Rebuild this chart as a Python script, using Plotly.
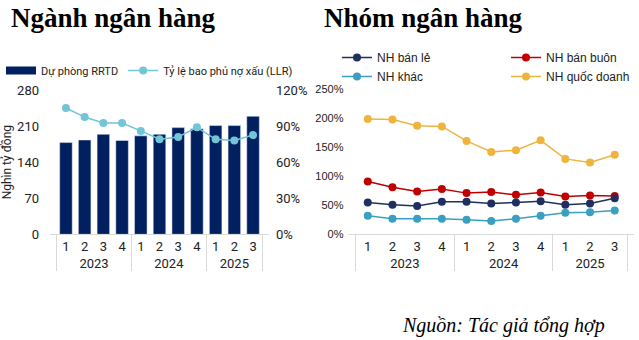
import plotly.graph_objects as go

# Quarter / year categories (two-level x axis)
quarters = ["1", "2", "3", "4", "1", "2", "3", "4", "1", "2", "3"]
years = ["2023"] * 4 + ["2024"] * 4 + ["2025"] * 3

# Banking sector: loan-loss provisions (thousand bn VND) and LLR (%)
provision = [178, 183, 194, 182, 191, 194, 207, 205, 211, 211, 229]
llr = [105, 97.5, 92.5, 92.5, 86, 79, 81, 89, 79, 78, 82.5]

# LLR by bank group (%)
retail = [55, 51, 49, 56, 56, 53, 55, 57, 51, 53, 62]
wholesale = [91, 81, 74, 78, 71, 73, 68, 72, 65, 67, 66]
other = [32, 27, 27, 27, 25, 23, 27, 32, 37, 38, 41]
state = [199, 198, 187, 186, 161, 142, 145, 162, 130, 124, 137]

W, H = 639, 340
xcat = [years, quarters]

NAVY_BAR = "#002060"
LLR_COL = "#72C4D7"
C_RETAIL = "#1F2F5F"
C_WHOLESALE = "#C00000"
C_OTHER = "#3A9FC1"
C_STATE = "#EEB43E"
GRID = "#D9D9D9"
TXT = "#222222"

fig = go.Figure()

# Left panel
fig.add_trace(go.Bar(x=xcat, y=provision, marker_color=NAVY_BAR, showlegend=False,
                     xaxis="x", yaxis="y", name="Dự phòng RRTD"))
# legend swatch for the bar series, drawn as a thick line
fig.add_trace(go.Scatter(x=[[years[0]], [quarters[0]]], y=[None], mode="lines",
                         line=dict(color=NAVY_BAR, width=8), name="Dự phòng RRTD",
                         xaxis="x", yaxis="y", legend="legend"))
fig.add_trace(go.Scatter(x=xcat, y=llr, mode="lines+markers", name="Tỷ lệ bao phủ nợ xấu (LLR)",
                         line=dict(color=LLR_COL, width=1.5), marker=dict(size=8, color=LLR_COL),
                         xaxis="x", yaxis="y2", legend="legend"))

# Right panel
series = [
    ("NH quốc doanh", state, C_STATE, "legend3"),
    ("NH bán buôn", wholesale, C_WHOLESALE, "legend3"),
    ("NH bán lẻ", retail, C_RETAIL, "legend2"),
    ("NH khác", other, C_OTHER, "legend2"),
]
for name, vals, col, lg in series:
    fig.add_trace(go.Scatter(x=xcat, y=vals, mode="lines+markers", name=name,
                             line=dict(color=col, width=1.5), marker=dict(size=8, color=col),
                             xaxis="x2", yaxis="y3", legend=lg))

y0 = (H - 234.3) / H

xcommon = dict(type="multicategory", showline=True, linecolor=GRID, linewidth=1,
               showdividers=True, dividercolor=GRID, dividerwidth=1,
               showgrid=False, zeroline=False,
               ticks="outside", ticklen=11, tickcolor="rgba(0,0,0,0)",
               tickfont=dict(family="Roboto", size=13, color=TXT), fixedrange=True)

fig.update_layout(
    width=W, height=H,
    margin=dict(l=0, r=0, t=0, b=0, autoexpand=False),
    paper_bgcolor="white", plot_bgcolor="white",
    bargap=0.33,
    xaxis=dict(domain=[50 / W, 269 / W], anchor="y", **xcommon),
    yaxis=dict(domain=[y0, (H - 90) / H], range=[0, 280], tick0=0, dtick=70,
               showgrid=False, zeroline=False, showline=False, ticklabelstandoff=10,
               tickfont=dict(family="Roboto", size=13, color=TXT),
               title=dict(text="Nghìn tỷ đồng", font=dict(family="Roboto", size=12, color=TXT),
                          standoff=3)),
    yaxis2=dict(overlaying="y", side="right", range=[0, 120], tick0=0, dtick=30,
                ticksuffix="%", showgrid=False, zeroline=False, showline=False,
                ticklabelstandoff=6, tickfont=dict(family="Roboto", size=13, color=TXT)),
    xaxis2=dict(domain=[348.5 / W, 634 / W], anchor="y3", **xcommon),
    yaxis3=dict(domain=[y0, (H - 89.3) / H], range=[0, 250], tick0=0, dtick=50,
                ticksuffix="%", showgrid=False, zeroline=False, showline=False,
                ticklabelstandoff=4, anchor="x2",
                tickfont=dict(family="Liberation Sans", size=11, color=TXT)),
    legend=dict(orientation="h", x=1 / W, y=(H - 56) / H, xanchor="left", yanchor="top",
                font=dict(family="Roboto", size=11, color=TXT), bgcolor="rgba(0,0,0,0)",
                traceorder="normal", itemwidth=30),
    legend2=dict(orientation="v", x=337 / W, y=(H - 43) / H, xanchor="left", yanchor="top",
                 font=dict(family="Liberation Sans", size=12, color=TXT), bgcolor="rgba(0,0,0,0)",
                 traceorder="normal", itemwidth=30),
    legend3=dict(orientation="v", x=506 / W, y=(H - 43) / H, xanchor="left", yanchor="top",
                 font=dict(family="Liberation Sans", size=12, color=TXT), bgcolor="rgba(0,0,0,0)",
                 traceorder="reversed", itemwidth=30),
    annotations=[
        dict(text="<b>Ngành ngân hàng</b>", x=9 / W, y=1 - 1 / H, xref="paper", yref="paper",
             xanchor="left", yanchor="top", showarrow=False,
             font=dict(family="Liberation Serif", size=27, color="black")),
        dict(text="<b>Nhóm ngân hàng</b>", x=322 / W, y=1 - 1 / H, xref="paper", yref="paper",
             xanchor="left", yanchor="top", showarrow=False,
             font=dict(family="Liberation Serif", size=27, color="black")),
        dict(text="<i>Nguồn: Tác giả tổng hợp</i>", x=400 / W, y=(H - 312) / H, xref="paper",
             yref="paper", xanchor="left", yanchor="top", showarrow=False,
             font=dict(family="Liberation Serif", size=20, color="black")),
    ],
)

fig.write_html("out.html")
